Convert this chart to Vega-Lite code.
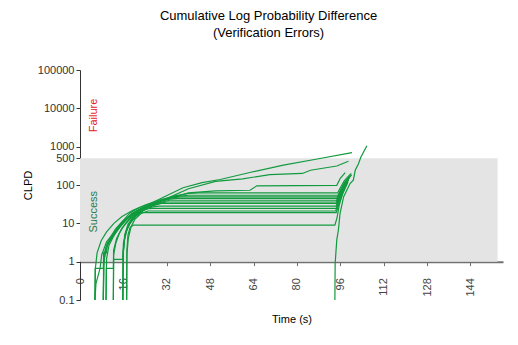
{
  "$schema": "https://vega.github.io/schema/vega-lite/v6.json",
  "autosize": {"type": "none"},
  "width": 423,
  "height": 230,
  "padding": {"left": 80, "top": 70, "right": 15, "bottom": 45},
  "background": "white",
  "config": {
    "view": {"stroke": null},
    "font": "Liberation Sans"
  },
  "title": {
    "text": ["Cumulative Log Probability Difference", "(Verification Errors)"],
    "fontSize": 13,
    "fontWeight": "normal",
    "color": "#000000",
    "lineHeight": 17,
    "anchor": "middle",
    "dx": -23,
    "offset": 24
  },
  "datasets": {
    "band": [{"x0": 0, "x1": 154, "y0": 1, "y1": 500}],
    "notes": [
      {"time": 5, "clpd": 6500, "label": "Failure", "kind": "Failure"},
      {"time": 5, "clpd": 20, "label": "Success", "kind": "Success"}
    ],
    "lines": [
      {"series": "A", "time": 5.5, "clpd": 0.1}, {"series": "A", "time": 5.9, "clpd": 0.27}, {"series": "A", "time": 7.4, "clpd": 0.67}, {"series": "A", "time": 8, "clpd": 1.5}, {"series": "A", "time": 9.8, "clpd": 3.3}, {"series": "A", "time": 12.3, "clpd": 5.5}, {"series": "A", "time": 16, "clpd": 12}, {"series": "A", "time": 18.5, "clpd": 19}, {"series": "A", "time": 22, "clpd": 26}, {"series": "A", "time": 26, "clpd": 33}, {"series": "A", "time": 30, "clpd": 45}, {"series": "A", "time": 38, "clpd": 85}, {"series": "A", "time": 45, "clpd": 115}, {"series": "A", "time": 51.7, "clpd": 139}, {"series": "A", "time": 63, "clpd": 215}, {"series": "A", "time": 75, "clpd": 330}, {"series": "A", "time": 87, "clpd": 470}, {"series": "A", "time": 100.3, "clpd": 700},

      {"series": "B", "time": 5.5, "clpd": 0.1}, {"series": "B", "time": 5.6, "clpd": 0.67}, {"series": "B", "time": 8.6, "clpd": 0.67}, {"series": "B", "time": 8.8, "clpd": 1.5}, {"series": "B", "time": 10, "clpd": 3}, {"series": "B", "time": 12.5, "clpd": 5}, {"series": "B", "time": 16, "clpd": 10.5}, {"series": "B", "time": 19, "clpd": 18}, {"series": "B", "time": 23, "clpd": 26}, {"series": "B", "time": 27, "clpd": 33}, {"series": "B", "time": 32, "clpd": 44}, {"series": "B", "time": 40, "clpd": 80}, {"series": "B", "time": 50, "clpd": 124}, {"series": "B", "time": 60, "clpd": 145}, {"series": "B", "time": 70, "clpd": 187}, {"series": "B", "time": 82, "clpd": 200}, {"series": "B", "time": 85, "clpd": 243}, {"series": "B", "time": 94.7, "clpd": 313}, {"series": "B", "time": 99, "clpd": 416},

      {"series": "C", "time": 8.6, "clpd": 0.1}, {"series": "C", "time": 8.8, "clpd": 1.1}, {"series": "C", "time": 10, "clpd": 2.6}, {"series": "C", "time": 12, "clpd": 4.5}, {"series": "C", "time": 15, "clpd": 8.5}, {"series": "C", "time": 18, "clpd": 14.5}, {"series": "C", "time": 22, "clpd": 22}, {"series": "C", "time": 26, "clpd": 30}, {"series": "C", "time": 32, "clpd": 43}, {"series": "C", "time": 40, "clpd": 62}, {"series": "C", "time": 50, "clpd": 70}, {"series": "C", "time": 62.7, "clpd": 73}, {"series": "C", "time": 65.2, "clpd": 95}, {"series": "C", "time": 94.7, "clpd": 98}, {"series": "C", "time": 96, "clpd": 150}, {"series": "C", "time": 97.8, "clpd": 210},

      {"series": "P62", "time": 5.5, "clpd": 0.1}, {"series": "P62", "time": 5.7, "clpd": 0.7}, {"series": "P62", "time": 6.3, "clpd": 1.7}, {"series": "P62", "time": 7.8, "clpd": 3.5}, {"series": "P62", "time": 9.8, "clpd": 6}, {"series": "P62", "time": 12.5, "clpd": 10}, {"series": "P62", "time": 15.5, "clpd": 15}, {"series": "P62", "time": 19.5, "clpd": 22}, {"series": "P62", "time": 24, "clpd": 30}, {"series": "P62", "time": 29, "clpd": 40}, {"series": "P62", "time": 35, "clpd": 52}, {"series": "P62", "time": 40, "clpd": 60}, {"series": "P62", "time": 44, "clpd": 62}, {"series": "P62", "time": 95, "clpd": 62}, {"series": "P62", "time": 96, "clpd": 85}, {"series": "P62", "time": 97.5, "clpd": 130}, {"series": "P62", "time": 100, "clpd": 200},

      {"series": "P54", "time": 8.6, "clpd": 0.1}, {"series": "P54", "time": 8.8, "clpd": 0.9}, {"series": "P54", "time": 9.5, "clpd": 2.2}, {"series": "P54", "time": 11, "clpd": 4}, {"series": "P54", "time": 13, "clpd": 7}, {"series": "P54", "time": 15.5, "clpd": 11}, {"series": "P54", "time": 18.5, "clpd": 16}, {"series": "P54", "time": 22, "clpd": 23}, {"series": "P54", "time": 26, "clpd": 31}, {"series": "P54", "time": 30, "clpd": 40}, {"series": "P54", "time": 35, "clpd": 50}, {"series": "P54", "time": 40, "clpd": 54}, {"series": "P54", "time": 95.2, "clpd": 54}, {"series": "P54", "time": 96.2, "clpd": 75}, {"series": "P54", "time": 97.8, "clpd": 120}, {"series": "P54", "time": 100.2, "clpd": 185},

      {"series": "P49", "time": 8.6, "clpd": 0.1}, {"series": "P49", "time": 8.7, "clpd": 1.7}, {"series": "P49", "time": 9.8, "clpd": 1.7}, {"series": "P49", "time": 10, "clpd": 2.5}, {"series": "P49", "time": 11.5, "clpd": 4.2}, {"series": "P49", "time": 13.5, "clpd": 7}, {"series": "P49", "time": 16, "clpd": 11.5}, {"series": "P49", "time": 19, "clpd": 17}, {"series": "P49", "time": 23, "clpd": 25}, {"series": "P49", "time": 28, "clpd": 35}, {"series": "P49", "time": 33, "clpd": 45}, {"series": "P49", "time": 37, "clpd": 49}, {"series": "P49", "time": 95, "clpd": 49}, {"series": "P49", "time": 96, "clpd": 70}, {"series": "P49", "time": 97.6, "clpd": 115}, {"series": "P49", "time": 99.8, "clpd": 175},

      {"series": "P45", "time": 9.6, "clpd": 0.1}, {"series": "P45", "time": 9.8, "clpd": 1.2}, {"series": "P45", "time": 10.7, "clpd": 2.7}, {"series": "P45", "time": 12.3, "clpd": 4.5}, {"series": "P45", "time": 14.5, "clpd": 8}, {"series": "P45", "time": 17, "clpd": 12.5}, {"series": "P45", "time": 20, "clpd": 18}, {"series": "P45", "time": 24, "clpd": 26}, {"series": "P45", "time": 29, "clpd": 36}, {"series": "P45", "time": 33, "clpd": 43}, {"series": "P45", "time": 36, "clpd": 45}, {"series": "P45", "time": 94.8, "clpd": 45}, {"series": "P45", "time": 95.8, "clpd": 65}, {"series": "P45", "time": 97.3, "clpd": 105}, {"series": "P45", "time": 99.5, "clpd": 165},

      {"series": "P40", "time": 9.6, "clpd": 0.1}, {"series": "P40", "time": 9.7, "clpd": 0.67}, {"series": "P40", "time": 12.3, "clpd": 0.67}, {"series": "P40", "time": 12.4, "clpd": 2}, {"series": "P40", "time": 13.5, "clpd": 4}, {"series": "P40", "time": 15.5, "clpd": 7.5}, {"series": "P40", "time": 18, "clpd": 12}, {"series": "P40", "time": 21, "clpd": 18}, {"series": "P40", "time": 25, "clpd": 26}, {"series": "P40", "time": 29, "clpd": 34}, {"series": "P40", "time": 33, "clpd": 40}, {"series": "P40", "time": 94.7, "clpd": 40}, {"series": "P40", "time": 95.7, "clpd": 58}, {"series": "P40", "time": 97.2, "clpd": 95}, {"series": "P40", "time": 99.3, "clpd": 155},

      {"series": "P36", "time": 12.3, "clpd": 0.1}, {"series": "P36", "time": 12.4, "clpd": 1.5}, {"series": "P36", "time": 13.2, "clpd": 3}, {"series": "P36", "time": 14.5, "clpd": 5.5}, {"series": "P36", "time": 16.3, "clpd": 9}, {"series": "P36", "time": 18.5, "clpd": 14}, {"series": "P36", "time": 21.5, "clpd": 20}, {"series": "P36", "time": 25, "clpd": 27}, {"series": "P36", "time": 29, "clpd": 33}, {"series": "P36", "time": 32, "clpd": 36}, {"series": "P36", "time": 94.5, "clpd": 36}, {"series": "P36", "time": 95.6, "clpd": 55}, {"series": "P36", "time": 97.2, "clpd": 95}, {"series": "P36", "time": 99.4, "clpd": 160},

      {"series": "P33", "time": 12.3, "clpd": 0.1}, {"series": "P33", "time": 12.4, "clpd": 1.15}, {"series": "P33", "time": 15.8, "clpd": 1.15}, {"series": "P33", "time": 16, "clpd": 3}, {"series": "P33", "time": 17, "clpd": 6}, {"series": "P33", "time": 18.5, "clpd": 10}, {"series": "P33", "time": 20.5, "clpd": 15}, {"series": "P33", "time": 23.5, "clpd": 22}, {"series": "P33", "time": 27, "clpd": 29}, {"series": "P33", "time": 30, "clpd": 33}, {"series": "P33", "time": 94.6, "clpd": 33}, {"series": "P33", "time": 95.5, "clpd": 48}, {"series": "P33", "time": 97, "clpd": 85}, {"series": "P33", "time": 99.2, "clpd": 150},

      {"series": "P28", "time": 15.8, "clpd": 0.1}, {"series": "P28", "time": 15.9, "clpd": 1.5}, {"series": "P28", "time": 16.5, "clpd": 4}, {"series": "P28", "time": 17.5, "clpd": 7.5}, {"series": "P28", "time": 19, "clpd": 12}, {"series": "P28", "time": 21, "clpd": 17}, {"series": "P28", "time": 24, "clpd": 23}, {"series": "P28", "time": 27, "clpd": 27}, {"series": "P28", "time": 29, "clpd": 28}, {"series": "P28", "time": 94.4, "clpd": 28}, {"series": "P28", "time": 95.4, "clpd": 42}, {"series": "P28", "time": 96.9, "clpd": 78}, {"series": "P28", "time": 99, "clpd": 140},

      {"series": "P24", "time": 15.8, "clpd": 0.1}, {"series": "P24", "time": 16, "clpd": 2}, {"series": "P24", "time": 16.6, "clpd": 5}, {"series": "P24", "time": 17.8, "clpd": 9}, {"series": "P24", "time": 19.5, "clpd": 14}, {"series": "P24", "time": 22, "clpd": 20}, {"series": "P24", "time": 25, "clpd": 24}, {"series": "P24", "time": 27, "clpd": 24.5}, {"series": "P24", "time": 94.5, "clpd": 24.5}, {"series": "P24", "time": 95.5, "clpd": 40}, {"series": "P24", "time": 97, "clpd": 75}, {"series": "P24", "time": 99, "clpd": 135},

      {"series": "P21", "time": 17.2, "clpd": 0.1}, {"series": "P21", "time": 17.3, "clpd": 1.5}, {"series": "P21", "time": 17.8, "clpd": 4}, {"series": "P21", "time": 18.8, "clpd": 8}, {"series": "P21", "time": 20.3, "clpd": 13}, {"series": "P21", "time": 22.5, "clpd": 18}, {"series": "P21", "time": 25, "clpd": 21}, {"series": "P21", "time": 94.3, "clpd": 21}, {"series": "P21", "time": 95.3, "clpd": 34}, {"series": "P21", "time": 96.8, "clpd": 68}, {"series": "P21", "time": 98.8, "clpd": 125},

      {"series": "P19", "time": 15.8, "clpd": 0.1}, {"series": "P19", "time": 15.9, "clpd": 1.7}, {"series": "P19", "time": 16.5, "clpd": 5}, {"series": "P19", "time": 17.7, "clpd": 9.5}, {"series": "P19", "time": 19.5, "clpd": 14}, {"series": "P19", "time": 21.5, "clpd": 17.5}, {"series": "P19", "time": 23, "clpd": 19}, {"series": "P19", "time": 94.5, "clpd": 19}, {"series": "P19", "time": 95.5, "clpd": 32}, {"series": "P19", "time": 97, "clpd": 62}, {"series": "P19", "time": 98.8, "clpd": 120},

      {"series": "P9", "time": 17.2, "clpd": 0.1}, {"series": "P9", "time": 17.3, "clpd": 2}, {"series": "P9", "time": 17.7, "clpd": 5}, {"series": "P9", "time": 18.5, "clpd": 7.8}, {"series": "P9", "time": 19.7, "clpd": 9}, {"series": "P9", "time": 94, "clpd": 9}, {"series": "P9", "time": 94.8, "clpd": 14}, {"series": "P9", "time": 95.6, "clpd": 30}, {"series": "P9", "time": 96.8, "clpd": 60}, {"series": "P9", "time": 98.6, "clpd": 115},

      {"series": "Late", "time": 94, "clpd": 0.1}, {"series": "Late", "time": 94.1, "clpd": 0.9}, {"series": "Late", "time": 94.7, "clpd": 3.7}, {"series": "Late", "time": 95.3, "clpd": 6.7}, {"series": "Late", "time": 95.9, "clpd": 18}, {"series": "Late", "time": 97.2, "clpd": 49}, {"series": "Late", "time": 99.6, "clpd": 109}, {"series": "Late", "time": 100.8, "clpd": 134}, {"series": "Late", "time": 101.5, "clpd": 242}, {"series": "Late", "time": 102.7, "clpd": 360}, {"series": "Late", "time": 103.6, "clpd": 535}, {"series": "Late", "time": 105.8, "clpd": 1060}
    ]
  },
  "layer": [
    {
      "data": {"name": "band"},
      "mark": {"type": "rect", "color": "#e4e4e4"},
      "encoding": {
        "x": {"field": "x0", "type": "quantitative", "scale": {"domain": [0, 156], "nice": false, "zero": false},
          "axis": {
            "title": "Time (s)",
            "offset": -38.33,
            "values": [0, 8, 16, 24, 32, 40, 48, 56, 64, 72, 80, 88, 96, 104, 112, 120, 128, 136, 144, 152],
            "labelExpr": "datum.value % 16 === 0 ? datum.label : ''",
            "labelAngle": -90,
            "labelFontSize": 11,
            "labelColor": "#444444",
            "labelPadding": 12,
            "tickSize": 4,
            "tickColor": "#707070",
            "tickWidth": 1,
            "domainColor": "#707070",
            "domainWidth": 2,
            "grid": false,
            "titleFontSize": 11,
            "titleFontWeight": "normal",
            "titleColor": "#000000",
            "titleBaseline": "middle",
            "titleY": 58
          }
        },
        "x2": {"field": "x1"},
        "y": {"field": "y0", "type": "quantitative", "scale": {"type": "log", "domain": [0.1, 100000], "nice": false},
          "axis": {
            "title": "CLPD",
            "values": [0.1, 1, 10, 100, 500, 1000, 10000, 100000],
            "format": "~g",
            "labelFontSize": 11,
            "labelColor": "#333333",
            "labelPadding": 2,
            "tickSize": 4,
            "tickColor": "#333333",
            "domainColor": "#333333",
            "grid": false,
            "titleFontSize": 11,
            "titleFontWeight": "normal",
            "titleColor": "#000000",
            "titlePadding": 4
          }
        },
        "y2": {"field": "y1"}
      }
    },
    {
      "data": {"name": "lines"},
      "mark": {"type": "line", "color": "#109a3e", "strokeWidth": 1.2, "clip": true},
      "encoding": {
        "x": {"field": "time", "type": "quantitative"},
        "y": {"field": "clpd", "type": "quantitative"},
        "detail": {"field": "series", "type": "nominal"}
      }
    },
    {
      "data": {"name": "notes"},
      "mark": {"type": "text", "angle": 270, "fontSize": 11, "align": "center", "baseline": "middle"},
      "encoding": {
        "x": {"field": "time", "type": "quantitative"},
        "y": {"field": "clpd", "type": "quantitative"},
        "text": {"field": "label"},
        "color": {"field": "kind", "type": "nominal", "scale": {"domain": ["Failure", "Success"], "range": ["#e3231f", "#2a7a4a"]}, "legend": null}
      }
    }
  ]
}
